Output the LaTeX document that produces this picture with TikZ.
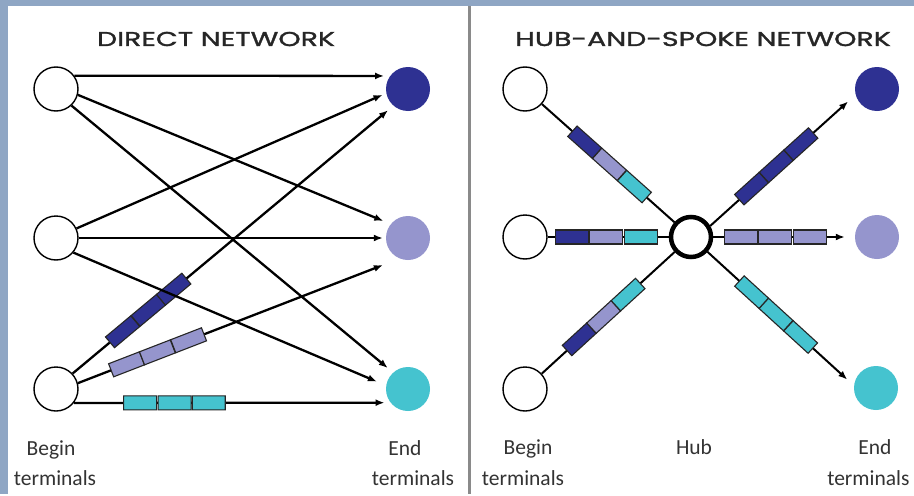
\documentclass[tikz,border=0pt]{standalone}
\usepackage{fontspec}
\setmainfont{Carlito}
\newfontfamily\headfont[FakeStretch=1.42, FakeBold=1.6]{Poppins}
\usetikzlibrary{arrows.meta}

\definecolor{frame}{HTML}{8FA6C4}
\definecolor{divider}{HTML}{8A8A8A}
\definecolor{navy}{HTML}{2E3192}
\definecolor{lilac}{HTML}{9595CD}
\definecolor{aqua}{HTML}{45C3CF}
\definecolor{label}{HTML}{333333}

\tikzset{
  begin/.style={circle, draw, line width=1.4pt, fill=white, minimum size=44pt, inner sep=0pt},
  term/.style={circle, minimum size=44pt, inner sep=0pt},
  hubnode/.style={circle, draw, line width=4.5pt, fill=white, minimum size=40pt, inner sep=0pt},
  pkt/.style={draw=black!85, line width=1.1pt, minimum width=33pt, minimum height=14pt, inner sep=0pt, sloped},
  arr/.style={line width=2.3pt, -{Latex[length=9pt,width=7pt]}},
  spoke/.style={line width=2pt},
  title/.style={font=\headfont\fontsize{20}{24}\selectfont, text=black!85},
  caption/.style={font=\fontsize{21.5}{26}\selectfont, text=label, anchor=base},
}

\begin{document}
\begin{tikzpicture}[x=1pt, y=-1pt]
    \fill[frame] (0,0) rectangle (914,494);
    \fill[white] (8,6) rectangle (914,494);
    \draw[divider, line width=3pt] (469,6) -- (469,494);
    \useasboundingbox (0,0) rectangle (914,494);

    % direct network
    \node[title] (t1) at (216,39) {DIRECT NETWORK};
    \node[begin] (lb1) at (56,89) {};
    \node[begin] (lb2) at (56,238) {};
    \node[begin] (lb3) at (56,389) {};
    \node[term, fill=navy] (le1) at (408,89) {};
    \node[term, fill=lilac] (le2) at (408,238) {};
    \node[term, fill=aqua] (le3) at (408,389) {};

    \draw[arr, shorten >=7pt] (lb3.43) --
        node[pkt, fill=navy, pos=.156] {} node[pkt, fill=navy, pos=.236] {}
        node[pkt, fill=navy, pos=.315] {} (le1.229);
    \draw[arr, shorten >=18pt] (lb3.15) --
        node[pkt, fill=lilac, pos=.151] {} node[pkt, fill=lilac, pos=.247] {}
        node[pkt, fill=lilac, pos=.344] {} (le2.248);
    \draw[arr, shorten >=6pt] (lb3.-38) --
        node[pkt, fill=aqua, pos=.209] {} node[pkt, fill=aqua, pos=.318] {}
        node[pkt, fill=aqua, pos=.426] {} (le3.-142);

    \draw[arr, shorten >=6pt] (lb1.36) -- (le1.144);
    \draw[arr, shorten >=8pt] (lb1.-15) -- (le2.141);
    \draw[arr, shorten >=7pt] (lb1.-47) -- (le3.132);
    \draw[arr, shorten >=4pt] (lb2.25) -- (le1.191);
    \draw[arr, shorten >=3pt] (lb2.0) -- (le2.180);
    \draw[arr, shorten >=10pt] (lb2.-40) -- (le3.171);

    \node[caption] (lbeg) at (51,455) {Begin};
    \node[caption] (lbegt) at (55,485) {terminals};
    \node[caption] (lend) at (405,455) {End};
    \node[caption] (lendt) at (413,485) {terminals};

    % hub-and-spoke network
    \node[title] (t2) at (703,39) {HUB-AND-SPOKE NETWORK};
    \node[begin] (rb1) at (525,89) {};
    \node[begin] (rb2) at (525,237) {};
    \node[begin] (rb3) at (525,389) {};
    \node[hubnode] (hub) at (691,237) {};
    \node[term, fill=navy] (re1) at (877,89) {};
    \node[term, fill=lilac] (re2) at (877,237) {};
    \node[term, fill=aqua] (re3) at (876,388) {};

    \draw[spoke] (rb1) --
        node[pkt, fill=navy, pos=.323] {} node[pkt, fill=lilac, pos=.51] {}
        node[pkt, fill=aqua, pos=.698] {} (hub);
    \draw[spoke] (rb2) --
        node[pkt, fill=navy, pos=.2] {} node[pkt, fill=lilac, pos=.484] {}
        node[pkt, fill=aqua, pos=.768] {} (hub);
    \draw[spoke] (rb3) --
        node[pkt, fill=navy, pos=.282] {} node[pkt, fill=lilac, pos=.466] {}
        node[pkt, fill=aqua, pos=.65] {} (hub);

    \draw[arr, line width=2pt, shorten >=10pt] (hub.30) --
        node[pkt, fill=navy, pos=.284] {} node[pkt, fill=navy, pos=.454] {}
        node[pkt, fill=navy, pos=.624] {} (re1.195);
    \draw[arr, line width=2pt, shorten >=10pt] (hub.0) --
        node[pkt, fill=lilac, pos=.195] {} node[pkt, fill=lilac, pos=.439] {}
        node[pkt, fill=lilac, pos=.682] {} (re2.180);
    \draw[arr, line width=2pt, shorten >=9pt] (hub.-42) --
        node[pkt, fill=aqua, pos=.301] {} node[pkt, fill=aqua, pos=.468] {}
        node[pkt, fill=aqua, pos=.636] {} (re3.174);

    \node[caption] (rbeg) at (528,454) {Begin};
    \node[caption] (rbegt) at (523,485) {terminals};
    \node[caption] (rhub) at (694,454) {Hub};
    \node[caption] (rend) at (875,454) {End};
    \node[caption, anchor=base east] (rendt) at (913,485) {terminals};
\end{tikzpicture}
\end{document}
